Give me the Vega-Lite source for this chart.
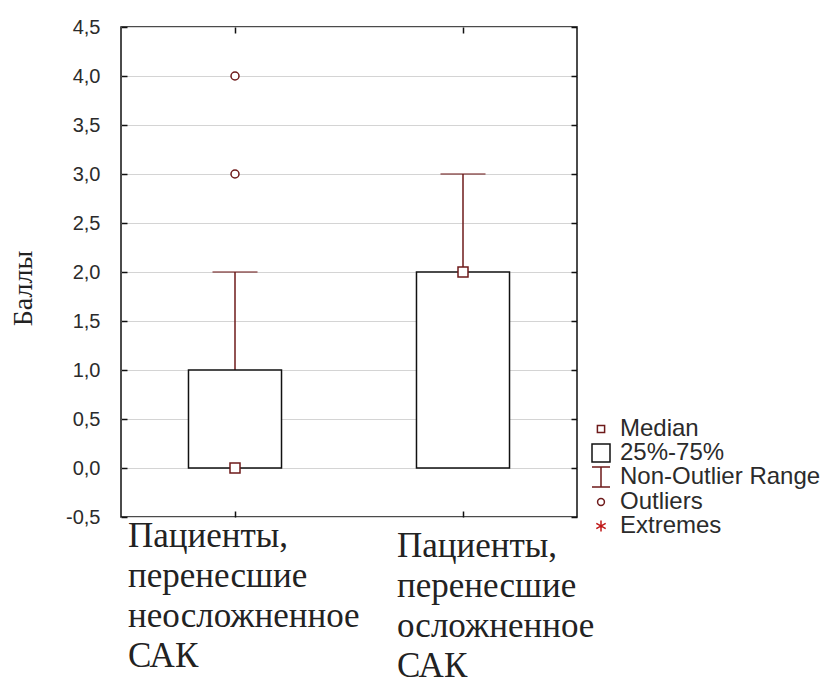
{
  "$schema": "https://vega.github.io/schema/vega-lite/v6.json",
  "width": 456,
  "height": 490,
  "autosize": "none",
  "padding": {"left": 121, "top": 27, "right": 260, "bottom": 162},
  "background": "white",
  "config": {
    "view": {"stroke": "#111111", "strokeWidth": 1.5},
    "axis": {
      "domain": false,
      "tickColor": "#111111",
      "tickWidth": 1.5,
      "tickSize": -6
    }
  },
  "datasets": {
    "boxes": [
      {"group": "Пациенты, перенесшие неосложненное САК", "lower": 0, "q1": 0, "median": 0, "q3": 1, "upper": 2},
      {"group": "Пациенты, перенесшие осложненное САК", "lower": 0, "q1": 0, "median": 2, "q3": 2, "upper": 3}
    ],
    "outliers": [
      {"group": "Пациенты, перенесшие неосложненное САК", "value": 3},
      {"group": "Пациенты, перенесшие неосложненное САК", "value": 4}
    ],
    "key": [
      {"item": "Median"},
      {"item": "25%-75%"},
      {"item": "Non-Outlier Range"},
      {"item": "Outliers"},
      {"item": "Extremes"}
    ]
  },
  "layer": [
    {
      "data": {"name": "boxes"},
      "mark": {"type": "rule", "color": "#6e1a1a", "strokeWidth": 1.5},
      "encoding": {
        "x": {
          "field": "group",
          "type": "nominal",
          "scale": {
            "type": "band",
            "domain": ["Пациенты, перенесшие неосложненное САК", "Пациенты, перенесшие осложненное САК"],
            "paddingInner": 0.592,
            "paddingOuter": 0.296
          },
          "axis": {
            "orient": "bottom",
            "title": null,
            "grid": false,
            "labels": false
          }
        },
        "y": {
          "field": "q3",
          "type": "quantitative",
          "scale": {"domain": [-0.5, 4.5], "nice": false, "zero": false},
          "axis": {
            "orient": "left",
            "title": "Баллы",
            "titleFont": "Liberation Serif",
            "titleFontSize": 28,
            "titleFontWeight": "normal",
            "titleColor": "#222222",
            "titleX": -98,
            "titleY": 261,
            "titleAlign": "center",
            "titleBaseline": "middle",
            "values": [-0.5, 0, 0.5, 1, 1.5, 2, 2.5, 3, 3.5, 4, 4.5],
            "labelExpr": "replace(replace(format(datum.value, '.1f'), '.', ','), '−', '-')",
            "labelFont": "Liberation Sans",
            "labelFontSize": 20,
            "labelColor": "#2b2b2b",
            "labelPadding": 27,
            "grid": true,
            "gridColor": "#d4d4d4",
            "gridWidth": 1.2
          }
        },
        "y2": {"field": "upper"}
      }
    },
    {
      "data": {"name": "boxes"},
      "mark": {"type": "tick", "orient": "horizontal", "color": "#6e1a1a", "size": 45, "thickness": 1.5},
      "encoding": {
        "x": {"field": "group", "type": "nominal", "axis": null},
        "y": {"field": "upper", "type": "quantitative", "axis": null}
      }
    },
    {
      "data": {"name": "boxes"},
      "mark": {"type": "bar", "fill": "white", "stroke": "#111111", "strokeWidth": 1.5},
      "encoding": {
        "x": {"field": "group", "type": "nominal", "axis": null},
        "y": {"field": "q1", "type": "quantitative", "axis": null},
        "y2": {"field": "q3"}
      }
    },
    {
      "data": {"name": "boxes"},
      "mark": {"type": "point", "shape": "square", "size": 100, "filled": true, "fill": "white", "stroke": "#6e1a1a", "strokeWidth": 1.5, "opacity": 1},
      "encoding": {
        "x": {"field": "group", "type": "nominal", "axis": null},
        "y": {"field": "median", "type": "quantitative", "axis": null}
      }
    },
    {
      "data": {"name": "boxes"},
      "transform": [{"filter": "datum.group == 'Пациенты, перенесшие неосложненное САК'"}],
      "mark": {"type": "text", "align": "left", "baseline": "top", "font": "Times", "fontSize": 35, "lineHeight": 40, "lineBreak": " ", "color": "#222222", "dx": -107, "dy": 2},
      "encoding": {
        "x": {"field": "group", "type": "nominal", "axis": null},
        "y": {"datum": -0.5, "type": "quantitative", "axis": null},
        "text": {"field": "group"}
      }
    },
    {
      "data": {"name": "boxes"},
      "transform": [{"filter": "datum.group == 'Пациенты, перенесшие осложненное САК'"}],
      "mark": {"type": "text", "align": "left", "baseline": "top", "font": "Times", "fontSize": 35, "lineHeight": 40, "lineBreak": " ", "color": "#222222", "dx": -66, "dy": 12},
      "encoding": {
        "x": {"field": "group", "type": "nominal", "axis": null},
        "y": {"datum": -0.5, "type": "quantitative", "axis": null},
        "text": {"field": "group"}
      }
    },
    {
      "data": {"name": "outliers"},
      "mark": {"type": "point", "shape": "circle", "size": 64, "filled": true, "fill": "white", "stroke": "#6e1a1a", "strokeWidth": 1.5, "opacity": 1},
      "encoding": {
        "x": {
          "field": "group",
          "type": "nominal",
          "axis": {"orient": "top", "title": null, "labels": false, "grid": false}
        },
        "y": {
          "field": "value",
          "type": "quantitative",
          "axis": {
            "orient": "right",
            "title": null,
            "labels": false,
            "grid": false,
            "values": [-0.5, 0, 0.5, 1, 1.5, 2, 2.5, 3, 3.5, 4, 4.5]
          }
        }
      }
    },
    {
      "data": {"name": "key"},
      "mark": {"type": "point", "filled": false, "opacity": 0, "strokeWidth": 1.5},
      "encoding": {
        "shape": {
          "field": "item",
          "type": "nominal",
          "scale": {
            "domain": ["Median", "25%-75%", "Non-Outlier Range", "Outliers", "Extremes"],
            "range": [
              "M-0.4,-0.4H0.4V0.4H-0.4Z",
              "M-1,-1H1V1H-1Z",
              "M-1,-1.1H1M0,-1.1V1.1M-1,1.1H1",
              "M0.38,0A0.38,0.38 0 1,1 -0.38,0A0.38,0.38 0 1,1 0.38,0Z",
              "M0,-0.6V0.6M-0.52,-0.3L0.52,0.3M-0.52,0.3L0.52,-0.3"
            ]
          },
          "legend": {
            "orient": "none",
            "legendX": 468,
            "legendY": 390,
            "title": null,
            "padding": 0,
            "labelFont": "Liberation Sans",
            "labelFontSize": 24,
            "labelColor": "#2b2b2b",
            "labelOffset": 7,
            "labelLimit": 400,
            "symbolSize": 324,
            "symbolStrokeWidth": 1.5,
            "symbolOpacity": 1,
            "rowPadding": -3
          }
        },
        "stroke": {
          "field": "item",
          "type": "nominal",
          "scale": {
            "domain": ["Median", "25%-75%", "Non-Outlier Range", "Outliers", "Extremes"],
            "range": ["#6e1a1a", "#111111", "#6e1a1a", "#6e1a1a", "#c01818"]
          },
          "legend": {
            "orient": "none",
            "legendX": 468,
            "legendY": 390,
            "title": null,
            "padding": 0,
            "labelFont": "Liberation Sans",
            "labelFontSize": 24,
            "labelColor": "#2b2b2b",
            "labelOffset": 7,
            "labelLimit": 400,
            "symbolSize": 324,
            "symbolStrokeWidth": 1.5,
            "symbolOpacity": 1,
            "rowPadding": -3
          }
        }
      }
    }
  ],
  "resolve": {"axis": {"x": "independent", "y": "independent"}}
}
